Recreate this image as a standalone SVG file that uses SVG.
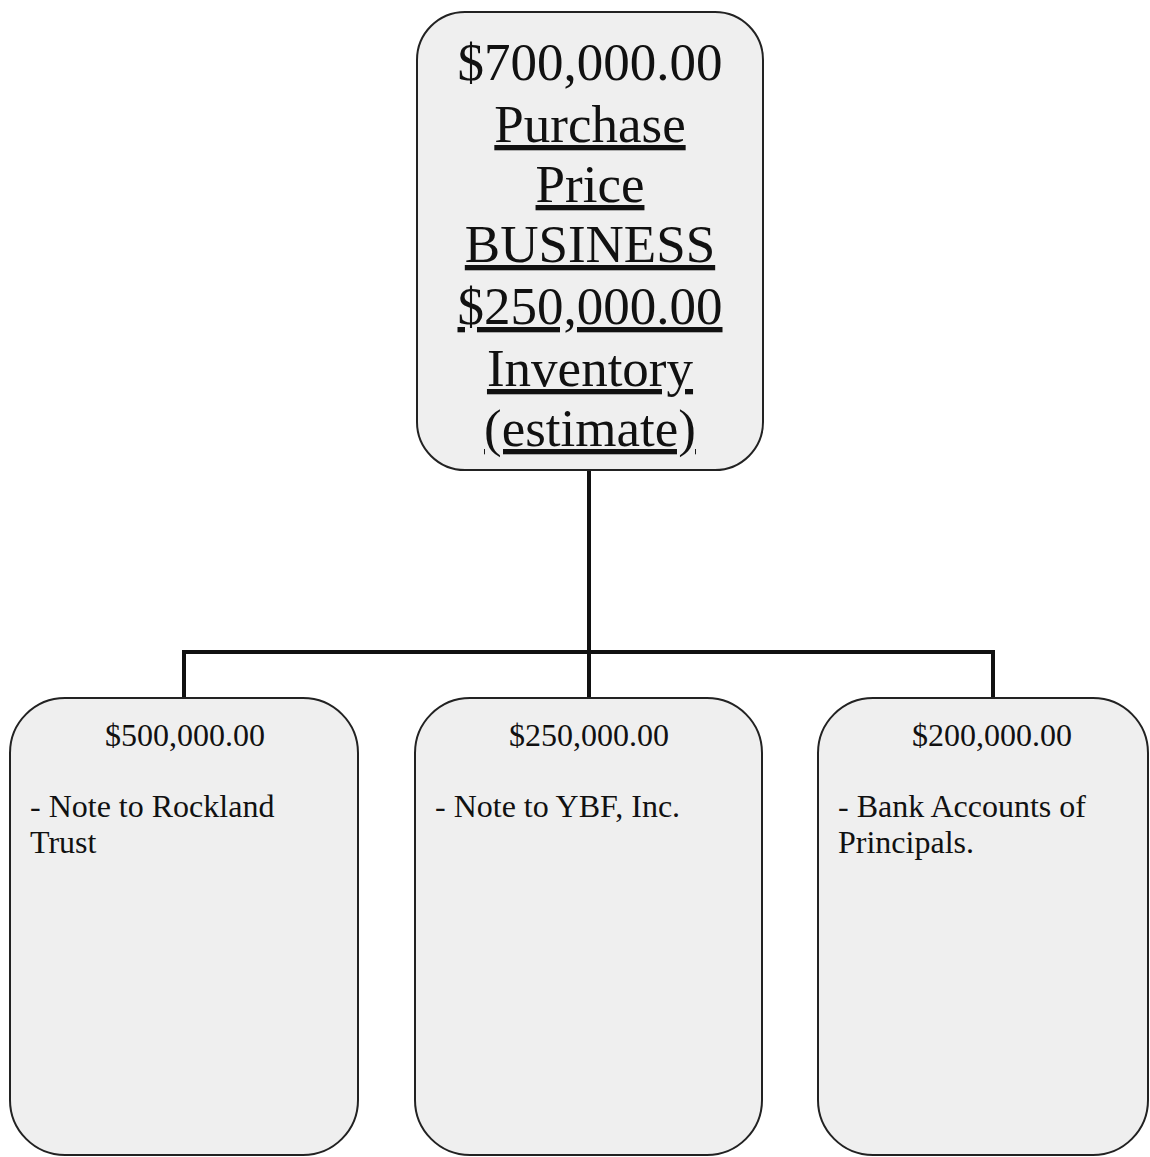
<svg xmlns="http://www.w3.org/2000/svg" width="1150" height="1157" viewBox="0 0 1150 1157">
<style>
.box{fill:#efefef;stroke:#222;stroke-width:2}
.big{font-family:"Liberation Serif","Times New Roman",serif;font-size:53px;fill:#111;text-anchor:middle}
.u{text-decoration:underline;text-decoration-skip-ink:none}
.sm{font-family:"Liberation Serif","Times New Roman",serif;font-size:32px;fill:#111}
.c{text-anchor:middle}
.conn{fill:none;stroke:#111;stroke-width:4}
</style>
<rect width="1150" height="1157" fill="#fff"/>
<g id="connectors">
<path class="conn" d="M589 470 V652 M184 698 V652 H993 V698 M589 652 V698"/>
</g>
<g id="top">
<rect class="box" x="417" y="12" width="346" height="458" rx="48"/>
<text class="big" x="590" y="80">$700,000.00</text>
<text class="big u" x="590" y="142">Purchase</text>
<text class="big u" x="590" y="202">Price</text>
<text class="big u" x="590" y="262">BUSINESS</text>
<text class="big u" x="590" y="324">$250,000.00</text>
<text class="big u" x="590" y="386">Inventory</text>
<text class="big u" x="590" y="446">(estimate)</text>
</g>
<g id="left">
<rect class="box" x="10" y="698" width="348" height="457" rx="55"/>
<text class="sm c" x="185" y="746">$500,000.00</text>
<text class="sm" x="30" y="817">- Note to Rockland</text>
<text class="sm" x="30" y="853">Trust</text>
</g>
<g id="middle">
<rect class="box" x="415" y="698" width="347" height="457" rx="55"/>
<text class="sm c" x="589" y="746">$250,000.00</text>
<text class="sm" x="435" y="817">- Note to YBF, Inc.</text>
</g>
<g id="right">
<rect class="box" x="818" y="698" width="330" height="457" rx="55"/>
<text class="sm c" x="992" y="746">$200,000.00</text>
<text class="sm" x="838" y="817">- Bank Accounts of</text>
<text class="sm" x="838" y="853">Principals.</text>
</g>
</svg>
